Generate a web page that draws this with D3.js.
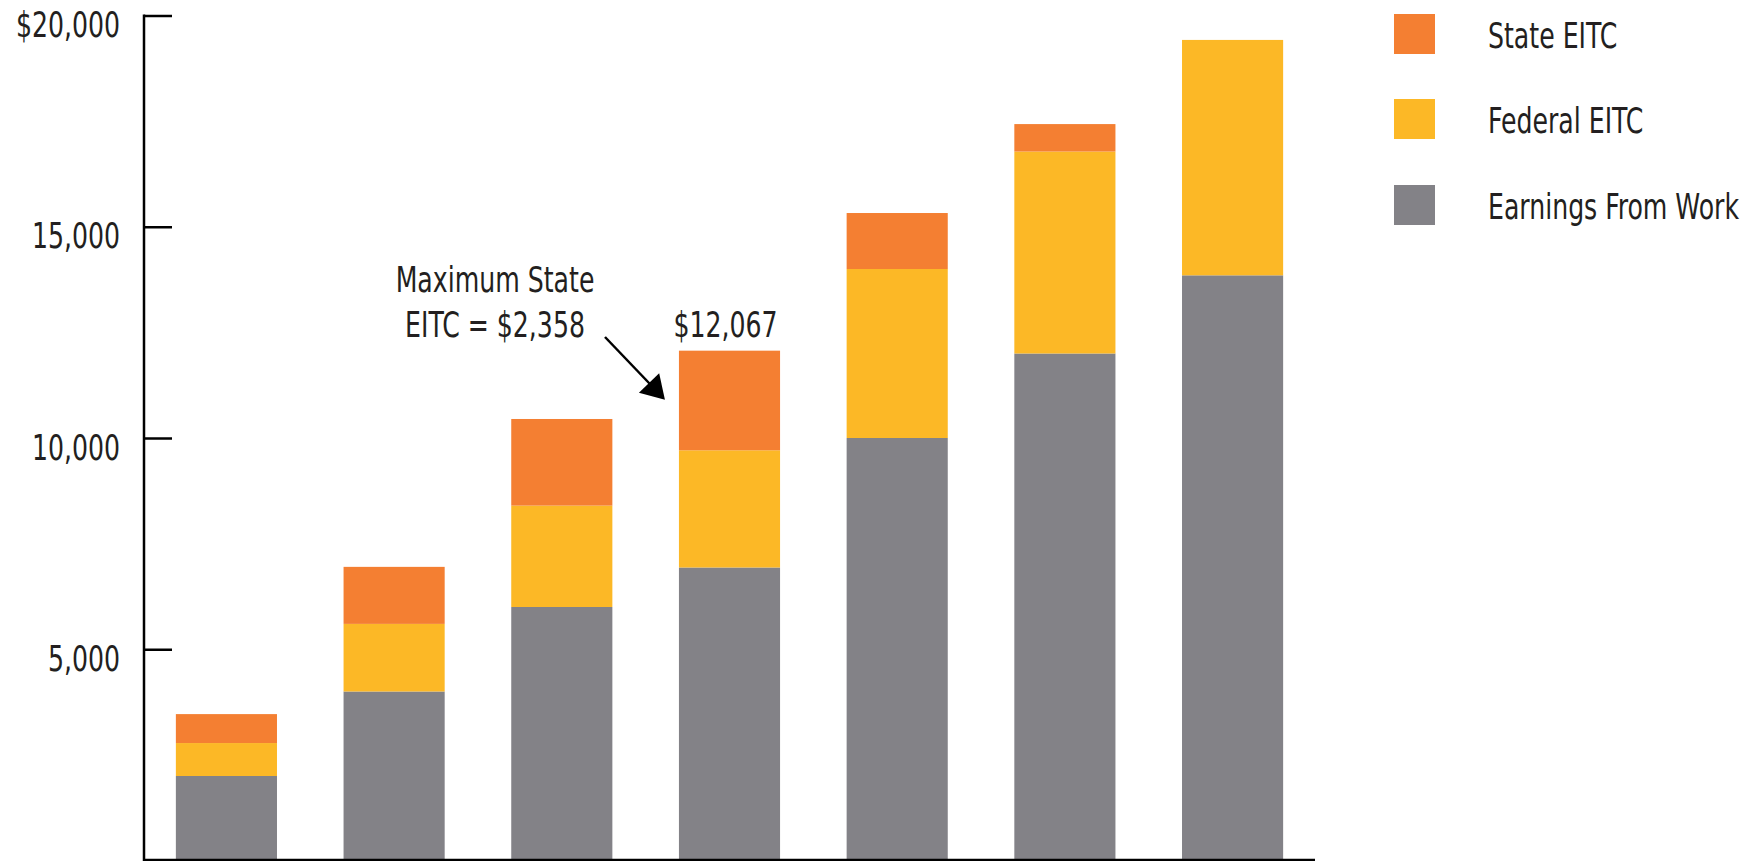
<!DOCTYPE html>
<html>
<head>
<meta charset="utf-8">
<script src="https://cdn.jsdelivr.net/npm/d3@7"></script>
<style>
body{margin:0;background:#fff;}
svg text{font-family:"DejaVu Sans Condensed","DejaVu Sans",sans-serif;fill:#231f20;font-size:35px;}
</style>
</head>
<body>
<svg id="chart" width="1764" height="861"></svg>
<script>
// values
var categories = ["1","2","3","4","5","6","7"];
var earnings = [2000, 4000, 6000, 6935, 10000, 12000, 13850];
var federal  = [780, 1600, 2400, 2774, 4000, 4780, 5572];
var stateEitc = [685, 1350, 2050, 2358, 1325, 650, 0];
var yTicks = [5000, 10000, 15000, 20000];
var seriesKeys = ["earnings","federal","state"];
var seriesNames = ["Earnings From Work","Federal EITC","State EITC"];
var colors = {earnings:"#838287", federal:"#fcb826", state:"#f47f32"};

var rows = categories.map(function(c,i){
	return {cat:c, earnings:earnings[i], federal:federal[i], state:stateEitc[i]};
});

var svg = d3.select("#chart");
var axisX = 144, axisRight = 1315;
var narrow = 0.8; // the original face is a condensed one

function label(px, py, str, anchor){
	return svg.append("text")
		.attr("transform","translate("+px+","+py+") scale("+narrow+",1)")
		.attr("text-anchor",anchor || "start")
		.text(str);
}

var x = d3.scaleBand().domain(categories).range([axisX, axisRight]).paddingInner(0.397).paddingOuter(0.19);
var y = d3.scaleLinear().domain([0, 20000]).range([860.5, 15.5]);

var stacked = d3.stack().keys(seriesKeys)(rows);

svg.selectAll("g.layer")
	.data(stacked)
	.enter()
	.append("g")
	.attr("class","layer")
	.attr("fill",function(d){ return colors[d.key]; })
	.selectAll("rect")
	.data(function(d){ return d; })
	.enter()
	.append("rect")
	.attr("x",function(d){ return x(d.data.cat); })
	.attr("width",x.bandwidth())
	.attr("y",function(d){ return y(d[1]); })
	.attr("height",function(d){ return y(d[0]) - y(d[1]); });

// y axis, ticks pointing inward
var yAxis = d3.axisRight(y).tickValues(yTicks).tickSize(28).tickFormat("");
var gy = svg.append("g").attr("transform","translate("+axisX+",0)").call(yAxis);
gy.select(".domain").remove();
gy.selectAll(".tick line").attr("stroke","#000").attr("stroke-width",2.5);
svg.append("line").attr("x1",axisX).attr("x2",axisX).attr("y1",y(20000)-1).attr("y2",861)
	.attr("stroke","#000").attr("stroke-width",2.5);
svg.append("line").attr("x1",axisX).attr("x2",axisRight).attr("y1",860).attr("y2",860)
	.attr("stroke","#000").attr("stroke-width",2.5);

yTicks.forEach(function(d){
	label(120, y(d) + 21.5, (d == 20000 ? "$" : "") + d3.format(",")(d), "end");
});

// legend
var legendOrder = ["state","federal","earnings"];
var legendY = [14, 99, 185];
legendOrder.forEach(function(k,i){
	svg.append("rect").attr("x",1394).attr("y",legendY[i]).attr("width",41).attr("height",40).attr("fill",colors[k]);
	label(1488, legendY[i]+34, seriesNames[seriesKeys.indexOf(k)]);
});

// annotation on the 4th bar
var bx = x(categories[3]), total = earnings[3] + federal[3] + stateEitc[3];
label(bx + x.bandwidth()/2 - 4, y(total) - 14, "$" + d3.format(",")(total), "middle");
label(495, 292, "Maximum State", "middle");
label(495, 337, "EITC = $" + d3.format(",")(stateEitc[3]), "middle");

var tip = [bx - 14, y(total) + 49], start = [605, 337];
var dx = tip[0]-start[0], dy = tip[1]-start[1], len = Math.sqrt(dx*dx+dy*dy);
var ux = dx/len, uy = dy/len, hl = 23, hw = 14;
var bxm = tip[0]-ux*hl, bym = tip[1]-uy*hl;
svg.append("line").attr("x1",start[0]).attr("y1",start[1]).attr("x2",bxm+ux*2).attr("y2",bym+uy*2)
	.attr("stroke","#000").attr("stroke-width",2.5);
svg.append("path")
	.attr("d","M"+tip[0]+","+tip[1]+"L"+(bxm-uy*hw)+","+(bym+ux*hw)+"L"+(bxm+uy*hw)+","+(bym-ux*hw)+"Z")
	.attr("fill","#000");
</script>
</body>
</html>
